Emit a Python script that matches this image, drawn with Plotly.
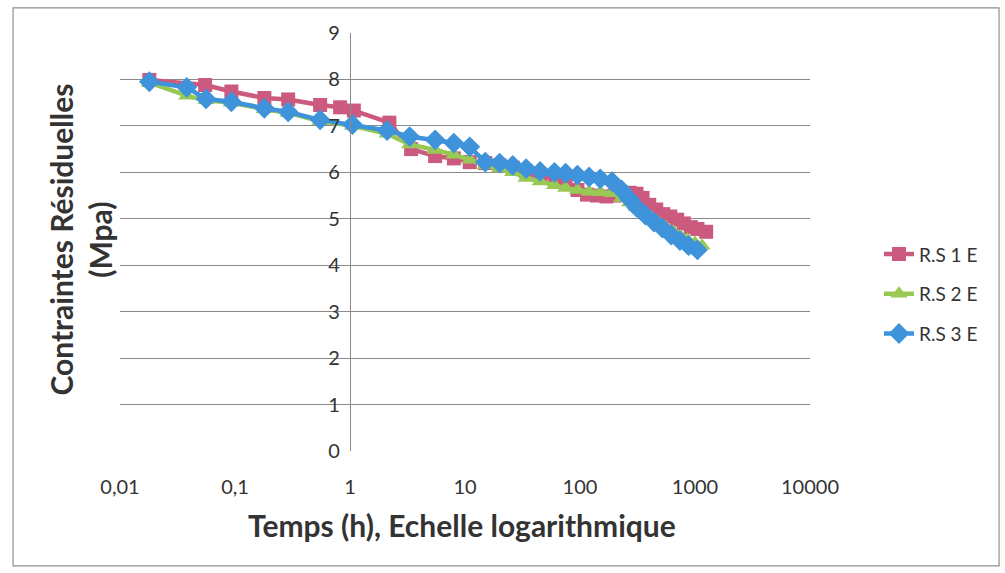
import plotly.graph_objects as go

# Time (h) and residual stress (MPa) for the three specimens
t_rs1 = [0.018, 0.055, 0.093, 0.18, 0.29, 0.55, 0.82, 1.08, 2.2, 3.4, 5.5, 8, 11, 15, 20,
         26, 34, 45, 60, 75, 95, 115, 140, 170, 200, 235, 270, 310, 350, 400, 460, 530,
         610, 700, 800, 920, 1050, 1250]
rs1 = [7.99, 7.88, 7.74, 7.6, 7.57, 7.45, 7.4, 7.33, 7.07, 6.5, 6.35, 6.3, 6.22, 6.2, 6.15,
       6.1, 6.02, 5.95, 5.88, 5.8, 5.62, 5.52, 5.5, 5.48, 5.5, 5.55, 5.56, 5.54, 5.45, 5.3,
       5.2, 5.1, 5.05, 4.98, 4.9, 4.82, 4.78, 4.72]

t_rs2 = [0.018, 0.038, 0.056, 0.093, 0.18, 0.29, 0.55, 1.05, 2.1, 3.3, 5.5, 8, 11, 15, 20,
         26, 34, 45, 60, 75, 95, 120, 150, 190, 230, 270, 310, 360, 420, 480, 560, 650,
         750, 860, 1000, 1150]
rs2 = [7.93, 7.65, 7.55, 7.5, 7.36, 7.28, 7.1, 7.0, 6.83, 6.6, 6.48, 6.38, 6.27, 6.15, 6.08,
       6.0, 5.88, 5.8, 5.72, 5.66, 5.62, 5.58, 5.57, 5.55, 5.45, 5.35, 5.25, 5.12, 5.02,
       4.92, 4.82, 4.72, 4.62, 4.55, 4.48, 4.42]

t_rs3 = [0.018, 0.038, 0.056, 0.093, 0.18, 0.29, 0.55, 1.05, 2.1, 3.3, 5.5, 8, 11, 15, 20,
         26, 34, 45, 60, 75, 95, 120, 150, 190, 230, 270, 310, 370, 440, 520, 620, 740,
         880, 1050]
rs3 = [7.95, 7.83, 7.58, 7.52, 7.38, 7.3, 7.13, 7.03, 6.9, 6.77, 6.7, 6.63, 6.55, 6.22, 6.2,
       6.15, 6.08, 6.02, 6.0, 5.98, 5.94, 5.9, 5.86, 5.8, 5.62, 5.42, 5.25, 5.08, 4.93, 4.8,
       4.65, 4.53, 4.42, 4.33]

series_names = ["R.S 1 E", "R.S 2 E", "R.S 3 E"]
x_tickvals = [0.01, 0.1, 1, 10, 100, 1000, 10000]
x_ticktext = ["0,01", "0,1", "1", "10", "100", "1000", "10000"]
y_tickvals = [0, 1, 2, 3, 4, 5, 6, 7, 8, 9]

FONT = "Lato"
TXT = "#333333"
GRID = "#8a8a8a"

styles = [
    dict(color="#CC5A7E", symbol="square", size=14),
    dict(color="#97C954", symbol="triangle-up", size=15),
    dict(color="#3E93DB", symbol="diamond", size=16),
]

fig = go.Figure()
for i, (tx, ty) in enumerate([(t_rs1, rs1), (t_rs2, rs2), (t_rs3, rs3)]):
    st = styles[i]
    fig.add_trace(go.Scatter(
        x=tx, y=ty, mode="lines+markers", name=series_names[i],
        legendgroup=series_names[i],
        line=dict(color=st["color"], width=4.5),
        marker=dict(color=st["color"], symbol=st["symbol"], size=st["size"]),
    ))

fig.update_layout(
    width=1005, height=573,
    margin=dict(l=120, r=195, t=33, b=122),
    paper_bgcolor="white", plot_bgcolor="white",
    font=dict(family=FONT, color=TXT, size=20),
    showlegend=True,
    legend=dict(x=1.10, y=0.375, xanchor="left", yanchor="middle",
                font=dict(size=19, color=TXT), tracegroupgap=12,
                bgcolor="rgba(0,0,0,0)"),
    xaxis=dict(type="log", range=[-2, 4], tickvals=x_tickvals, ticktext=x_ticktext,
               showgrid=False, zeroline=False, showline=False, ticks="",
               tickfont=dict(size=20, color=TXT), ticklabelstandoff=22),
    yaxis=dict(range=[0, 9], tickvals=y_tickvals, showgrid=True, gridcolor=GRID,
               gridwidth=1.2, zeroline=False, anchor="free", position=1/3,
               showline=True, linecolor=GRID, linewidth=1.2, ticks="",
               tickfont=dict(size=20, color=TXT), ticklabelstandoff=6),
    annotations=[
        dict(text="<b>Temps (h), Echelle logarithmique</b>", xref="paper", yref="paper",
             x=0.496, y=-0.177, xanchor="center", yanchor="middle", showarrow=False,
             font=dict(size=30, color=TXT, family=FONT)),
        dict(text="<b>Contraintes Résiduelles<br>(Mpa)</b>", xref="paper", yref="paper",
             x=-0.057, y=0.505, xanchor="center", yanchor="middle", showarrow=False,
             textangle=-90, font=dict(size=30, color=TXT, family=FONT)),
    ],
    shapes=[
        dict(type="rect", xref="paper", yref="paper", x0=-0.155, x1=1.274, y0=-0.275, y1=1.06,
             line=dict(color="#8f8f8f", width=1.2), fillcolor="rgba(0,0,0,0)", layer="below"),
    ],
)

fig.write_html("out.html")
